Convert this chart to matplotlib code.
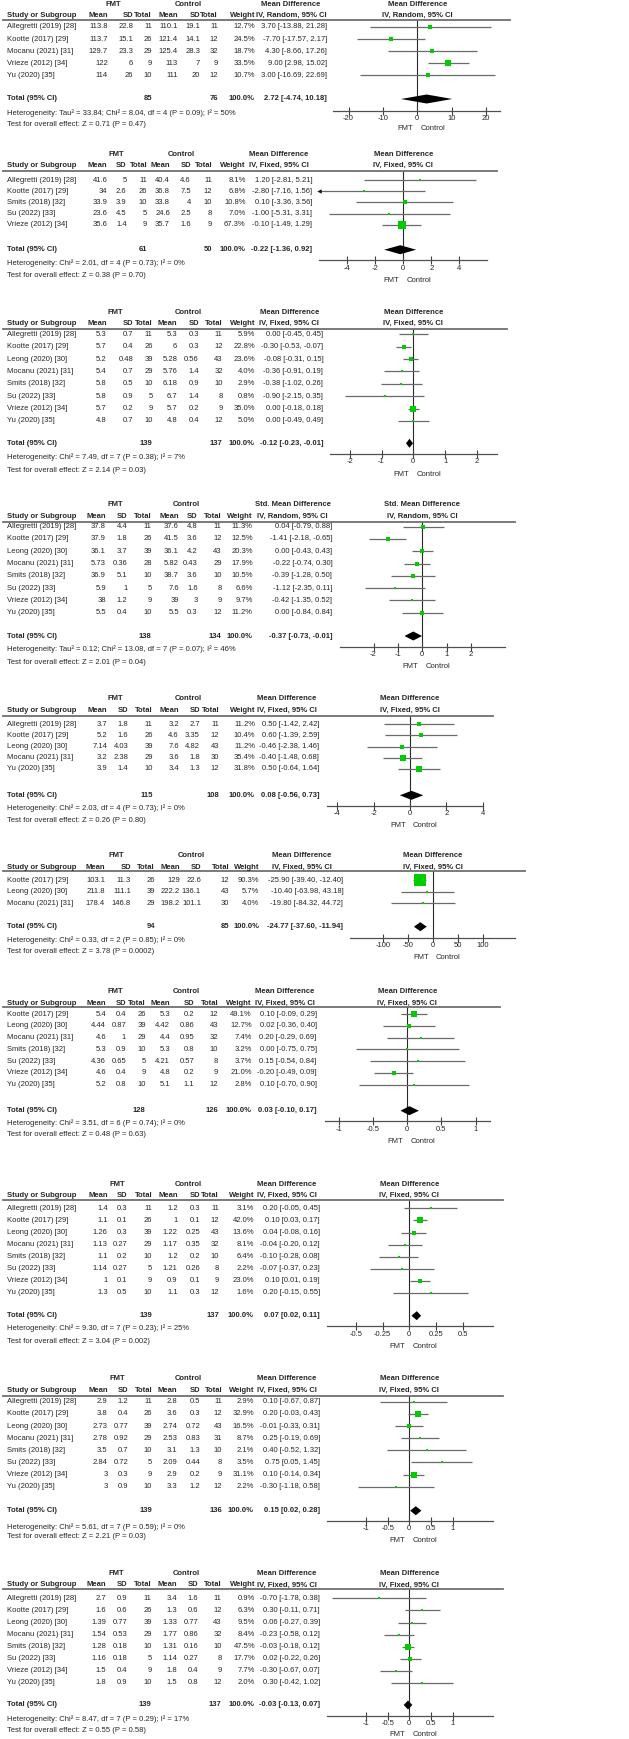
import matplotlib
matplotlib.use('Agg')
import matplotlib.pyplot as plt
from matplotlib import font_manager
from matplotlib.lines import Line2D
from matplotlib.ticker import FuncFormatter

W, H = 629, 1739
_names = {f.name for f in font_manager.fontManager.ttflist}
if 'Liberation Sans Narrow' in _names:
    FONT, FS = 'Liberation Sans Narrow', 6.5
else:
    FONT, FS = 'Liberation Sans', 5.5
plt.rcParams['font.family'] = [FONT, 'DejaVu Sans']
plt.rcParams['axes.unicode_minus'] = False

TXT = '#262626'
GREEN = '#00cc00'
CI_COL = '#6a6a6a'
LINE_COL = '#707070'

# ---------------- DATA ----------------
ALL8 = ['Allegretti (2019) [28]', 'Kootte (2017) [29]', 'Leong (2020) [30]', 'Mocanu (2021) [31]',
        'Smits (2018) [32]', 'Su (2022) [33]', 'Vrieze (2012) [34]', 'Yu (2020) [35]']

p1_study = ['Allegretti (2019) [28]', 'Kootte (2017) [29]', 'Mocanu (2021) [31]', 'Vrieze (2012) [34]', 'Yu (2020) [35]']
p1_fmt_mean = [113.8, 113.7, 129.7, 122, 114]
p1_fmt_sd = [22.8, 15.1, 23.3, 6, 26]
p1_fmt_n = [11, 26, 29, 9, 10]
p1_ctl_mean = [110.1, 121.4, 125.4, 113, 111]
p1_ctl_sd = [19.1, 14.1, 28.3, 7, 20]
p1_ctl_n = [11, 12, 32, 9, 12]
p1_weight = [12.7, 24.5, 18.7, 33.5, 10.7]
p1_md = [3.70, -7.70, 4.30, 9.00, 3.00]
p1_lo = [-13.88, -17.57, -8.66, 2.98, -16.69]
p1_hi = [21.28, 2.17, 17.26, 15.02, 22.69]
p1_total = [85, 76, 2.72, -4.74, 10.18]
p1_ticks = [-20, -10, 0, 10, 20]

p2_study = ['Allegretti (2019) [28]', 'Kootte (2017) [29]', 'Smits (2018) [32]', 'Su (2022) [33]', 'Vrieze (2012) [34]']
p2_fmt_mean = [41.6, 34, 33.9, 23.6, 35.6]
p2_fmt_sd = [5, 2.6, 3.9, 4.5, 1.4]
p2_fmt_n = [11, 26, 10, 5, 9]
p2_ctl_mean = [40.4, 36.8, 33.8, 24.6, 35.7]
p2_ctl_sd = [4.6, 7.5, 4, 2.5, 1.6]
p2_ctl_n = [11, 12, 10, 8, 9]
p2_weight = [8.1, 6.8, 10.8, 7.0, 67.3]
p2_md = [1.20, -2.80, 0.10, -1.00, -0.10]
p2_lo = [-2.81, -7.16, -3.36, -5.31, -1.49]
p2_hi = [5.21, 1.56, 3.56, 3.31, 1.29]
p2_total = [61, 50, -0.22, -1.36, 0.92]
p2_ticks = [-4, -2, 0, 2, 4]

p3_study = ALL8
p3_fmt_mean = [5.3, 5.7, 5.2, 5.4, 5.8, 5.8, 5.7, 4.8]
p3_fmt_sd = [0.7, 0.4, 0.48, 0.7, 0.5, 0.9, 0.2, 0.7]
p3_fmt_n = [11, 26, 39, 29, 10, 5, 9, 10]
p3_ctl_mean = [5.3, 6, 5.28, 5.76, 6.18, 6.7, 5.7, 4.8]
p3_ctl_sd = [0.3, 0.3, 0.56, 1.4, 0.9, 1.4, 0.2, 0.4]
p3_ctl_n = [11, 12, 43, 32, 10, 8, 9, 12]
p3_weight = [5.9, 22.8, 23.6, 4.0, 2.9, 0.8, 35.0, 5.0]
p3_md = [0.00, -0.30, -0.08, -0.36, -0.38, -0.90, 0.00, 0.00]
p3_lo = [-0.45, -0.53, -0.31, -0.91, -1.02, -2.15, -0.18, -0.49]
p3_hi = [0.45, -0.07, 0.15, 0.19, 0.26, 0.35, 0.18, 0.49]
p3_total = [139, 137, -0.12, -0.23, -0.01]
p3_ticks = [-2, -1, 0, 1, 2]

p4_study = ALL8
p4_fmt_mean = [37.8, 37.9, 36.1, 5.73, 36.9, 5.9, 38, 5.5]
p4_fmt_sd = [4.4, 1.8, 3.7, 0.36, 5.1, 1, 1.2, 0.4]
p4_fmt_n = [11, 26, 39, 28, 10, 5, 9, 10]
p4_ctl_mean = [37.6, 41.5, 36.1, 5.82, 38.7, 7.6, 39, 5.5]
p4_ctl_sd = [4.8, 3.6, 4.2, 0.43, 3.6, 1.6, 3, 0.3]
p4_ctl_n = [11, 12, 43, 29, 10, 8, 9, 12]
p4_weight = [11.3, 12.5, 20.3, 17.9, 10.5, 6.6, 9.7, 11.2]
p4_md = [0.04, -1.41, 0.00, -0.22, -0.39, -1.12, -0.42, 0.00]
p4_lo = [-0.79, -2.18, -0.43, -0.74, -1.28, -2.35, -1.35, -0.84]
p4_hi = [0.88, -0.65, 0.43, 0.30, 0.50, 0.11, 0.52, 0.84]
p4_total = [138, 134, -0.37, -0.73, -0.01]
p4_ticks = [-2, -1, 0, 1, 2]

p5_study = ['Allegretti (2019) [28]', 'Kootte (2017) [29]', 'Leong (2020) [30]', 'Mocanu (2021) [31]', 'Yu (2020) [35]']
p5_fmt_mean = [3.7, 5.2, 7.14, 3.2, 3.9]
p5_fmt_sd = [1.8, 1.6, 4.03, 2.38, 1.4]
p5_fmt_n = [11, 26, 39, 29, 10]
p5_ctl_mean = [3.2, 4.6, 7.6, 3.6, 3.4]
p5_ctl_sd = [2.7, 3.35, 4.82, 1.8, 1.3]
p5_ctl_n = [11, 12, 43, 30, 12]
p5_weight = [11.2, 10.4, 11.2, 35.4, 31.8]
p5_md = [0.50, 0.60, -0.46, -0.40, 0.50]
p5_lo = [-1.42, -1.39, -2.38, -1.48, -0.64]
p5_hi = [2.42, 2.59, 1.46, 0.68, 1.64]
p5_total = [115, 108, 0.08, -0.56, 0.73]
p5_ticks = [-4, -2, 0, 2, 4]

p6_study = ['Kootte (2017) [29]', 'Leong (2020) [30]', 'Mocanu (2021) [31]']
p6_fmt_mean = [103.1, 211.8, 178.4]
p6_fmt_sd = [11.3, 111.1, 146.8]
p6_fmt_n = [26, 39, 29]
p6_ctl_mean = [129, 222.2, 198.2]
p6_ctl_sd = [22.6, 136.1, 101.1]
p6_ctl_n = [12, 43, 30]
p6_weight = [90.3, 5.7, 4.0]
p6_md = [-25.90, -10.40, -19.80]
p6_lo = [-39.40, -63.98, -84.32]
p6_hi = [-12.40, 43.18, 44.72]
p6_total = [94, 85, -24.77, -37.60, -11.94]
p6_ticks = [-100, -50, 0, 50, 100]

p7_study = ['Kootte (2017) [29]', 'Leong (2020) [30]', 'Mocanu (2021) [31]', 'Smits (2018) [32]',
            'Su (2022) [33]', 'Vrieze (2012) [34]', 'Yu (2020) [35]']
p7_fmt_mean = [5.4, 4.44, 4.6, 5.3, 4.36, 4.6, 5.2]
p7_fmt_sd = [0.4, 0.87, 1, 0.9, 0.65, 0.4, 0.8]
p7_fmt_n = [26, 39, 29, 10, 5, 9, 10]
p7_ctl_mean = [5.3, 4.42, 4.4, 5.3, 4.21, 4.8, 5.1]
p7_ctl_sd = [0.2, 0.86, 0.95, 0.8, 0.57, 0.2, 1.1]
p7_ctl_n = [12, 43, 32, 10, 8, 9, 12]
p7_weight = [49.1, 12.7, 7.4, 3.2, 3.7, 21.0, 2.8]
p7_md = [0.10, 0.02, 0.20, 0.00, 0.15, -0.20, 0.10]
p7_lo = [-0.09, -0.36, -0.29, -0.75, -0.54, -0.49, -0.70]
p7_hi = [0.29, 0.40, 0.69, 0.75, 0.84, 0.09, 0.90]
p7_total = [128, 126, 0.03, -0.10, 0.17]
p7_ticks = [-1, -0.5, 0, 0.5, 1]

p8_study = ALL8
p8_fmt_mean = [1.4, 1.1, 1.26, 1.13, 1.1, 1.14, 1, 1.3]
p8_fmt_sd = [0.3, 0.1, 0.3, 0.27, 0.2, 0.27, 0.1, 0.5]
p8_fmt_n = [11, 26, 39, 29, 10, 5, 9, 10]
p8_ctl_mean = [1.2, 1, 1.22, 1.17, 1.2, 1.21, 0.9, 1.1]
p8_ctl_sd = [0.3, 0.1, 0.25, 0.35, 0.2, 0.26, 0.1, 0.3]
p8_ctl_n = [11, 12, 43, 32, 10, 8, 9, 12]
p8_weight = [3.1, 42.0, 13.6, 8.1, 6.4, 2.2, 23.0, 1.6]
p8_md = [0.20, 0.10, 0.04, -0.04, -0.10, -0.07, 0.10, 0.20]
p8_lo = [-0.05, 0.03, -0.08, -0.20, -0.28, -0.37, 0.01, -0.15]
p8_hi = [0.45, 0.17, 0.16, 0.12, 0.08, 0.23, 0.19, 0.55]
p8_total = [139, 137, 0.07, 0.02, 0.11]
p8_ticks = [-0.5, -0.25, 0, 0.25, 0.5]

p9_study = ALL8
p9_fmt_mean = [2.9, 3.8, 2.73, 2.78, 3.5, 2.84, 3, 3]
p9_fmt_sd = [1.2, 0.4, 0.77, 0.92, 0.7, 0.72, 0.3, 0.9]
p9_fmt_n = [11, 26, 39, 29, 10, 5, 9, 10]
p9_ctl_mean = [2.8, 3.6, 2.74, 2.53, 3.1, 2.09, 2.9, 3.3]
p9_ctl_sd = [0.5, 0.3, 0.72, 0.83, 1.3, 0.44, 0.2, 1.2]
p9_ctl_n = [11, 12, 43, 31, 10, 8, 9, 12]
p9_weight = [2.9, 32.9, 16.5, 8.7, 2.1, 3.5, 31.1, 2.2]
p9_md = [0.10, 0.20, -0.01, 0.25, 0.40, 0.75, 0.10, -0.30]
p9_lo = [-0.67, -0.03, -0.33, -0.19, -0.52, 0.05, -0.14, -1.18]
p9_hi = [0.87, 0.43, 0.31, 0.69, 1.32, 1.45, 0.34, 0.58]
p9_total = [139, 136, 0.15, 0.02, 0.28]
p9_ticks = [-1, -0.5, 0, 0.5, 1]

p10_study = ALL8
p10_fmt_mean = [2.7, 1.6, 1.39, 1.54, 1.28, 1.16, 1.5, 1.8]
p10_fmt_sd = [0.9, 0.6, 0.77, 0.53, 0.18, 0.18, 0.4, 0.9]
p10_fmt_n = [11, 26, 39, 29, 10, 5, 9, 10]
p10_ctl_mean = [3.4, 1.3, 1.33, 1.77, 1.31, 1.14, 1.8, 1.5]
p10_ctl_sd = [1.6, 0.6, 0.77, 0.86, 0.16, 0.27, 0.4, 0.8]
p10_ctl_n = [11, 12, 43, 32, 10, 8, 9, 12]
p10_weight = [0.9, 6.3, 9.5, 8.4, 47.5, 17.7, 7.7, 2.0]
p10_md = [-0.70, 0.30, 0.06, -0.23, -0.03, 0.02, -0.30, 0.30]
p10_lo = [-1.78, -0.11, -0.27, -0.58, -0.18, -0.22, -0.67, -0.42]
p10_hi = [0.38, 0.71, 0.39, 0.12, 0.12, 0.26, 0.07, 1.02]
p10_total = [139, 137, -0.03, -0.13, 0.07]
p10_ticks = [-1, -0.5, 0, 0.5, 1]

measures = ['Mean Difference', 'Mean Difference', 'Mean Difference', 'Std. Mean Difference', 'Mean Difference',
            'Mean Difference', 'Mean Difference', 'Mean Difference', 'Mean Difference', 'Mean Difference']
methods = ['IV, Random, 95% CI', 'IV, Fixed, 95% CI', 'IV, Fixed, 95% CI', 'IV, Random, 95% CI', 'IV, Fixed, 95% CI',
           'IV, Fixed, 95% CI', 'IV, Fixed, 95% CI', 'IV, Fixed, 95% CI', 'IV, Fixed, 95% CI', 'IV, Fixed, 95% CI']
heterogeneity = [
    'Heterogeneity: Tau² = 33.84; Chi² = 8.04, df = 4 (P = 0.09); I² = 50%',
    'Heterogeneity: Chi² = 2.01, df = 4 (P = 0.73); I² = 0%',
    'Heterogeneity: Chi² = 7.49, df = 7 (P = 0.38); I² = 7%',
    'Heterogeneity: Tau² = 0.12; Chi² = 13.08, df = 7 (P = 0.07); I² = 46%',
    'Heterogeneity: Chi² = 2.03, df = 4 (P = 0.73); I² = 0%',
    'Heterogeneity: Chi² = 0.33, df = 2 (P = 0.85); I² = 0%',
    'Heterogeneity: Chi² = 3.51, df = 6 (P = 0.74); I² = 0%',
    'Heterogeneity: Chi² = 9.30, df = 7 (P = 0.23); I² = 25%',
    'Heterogeneity: Chi² = 5.61, df = 7 (P = 0.59); I² = 0%',
    'Heterogeneity: Chi² = 8.47, df = 7 (P = 0.29); I² = 17%',
]
overall = [
    'Test for overall effect: Z = 0.71 (P = 0.47)',
    'Test for overall effect: Z = 0.38 (P = 0.70)',
    'Test for overall effect: Z = 2.14 (P = 0.03)',
    'Test for overall effect: Z = 2.01 (P = 0.04)',
    'Test for overall effect: Z = 0.26 (P = 0.80)',
    'Test for overall effect: Z = 3.78 (P = 0.0002)',
    'Test for overall effect: Z = 0.48 (P = 0.63)',
    'Test for overall effect: Z = 3.04 (P = 0.002)',
    'Test for overall effect: Z = 2.21 (P = 0.03)',
    'Test for overall effect: Z = 0.55 (P = 0.58)',
]

g = globals()
PANELS = []
for k in range(1, 11):
    PANELS.append(dict(
        study=g[f'p{k}_study'], fm=g[f'p{k}_fmt_mean'], fs=g[f'p{k}_fmt_sd'], fn=g[f'p{k}_fmt_n'],
        cm=g[f'p{k}_ctl_mean'], cs=g[f'p{k}_ctl_sd'], cn=g[f'p{k}_ctl_n'], w=g[f'p{k}_weight'],
        md=g[f'p{k}_md'], lo=g[f'p{k}_lo'], hi=g[f'p{k}_hi'], total=g[f'p{k}_total'],
        ticks=g[f'p{k}_ticks'], measure=measures[k - 1], method=methods[k - 1],
        het=heterogeneity[k - 1], test=overall[k - 1]))

# ---------------- LAYOUT (pixels) ----------------
LAYOUT = [
    dict(y_grp=4, y_sub=15.3, y_line=20, y0=27, dy=12.1, y_tot=99, y_het=113, y_test=125, y_axis=111, y_fc=129,
         cols=[7, 108, 133, 152, 178, 200, 218, 255, 327], grp=[113, 188, 291], x0=417.3, ppu=3.44, ax_l=333, ax_r=500),
    dict(y_grp=154, y_sub=165.7, y_line=170.7, y0=180, dy=11.2, y_tot=249.7, y_het=263.3, y_test=275.3, y_axis=260.3, y_fc=280,
         cols=[7, 107.3, 126.7, 147.3, 170, 191, 212.3, 245.7, 312.3], grp=[116, 181.7, 279], x0=403.3, ppu=14, ax_l=319.3, ax_r=486.7),
    dict(y_grp=312, y_sub=323.7, y_line=328.7, y0=334.3, dy=12.38, y_tot=443.3, y_het=457.3, y_test=470, y_axis=454, y_fc=474.3,
         cols=[7, 106.7, 133.3, 152.7, 177.3, 199, 222.7, 255, 323.3], grp=[115, 188.3, 289.3], x0=413.3, ppu=31.8, ax_l=330, ax_r=496.7),
    dict(y_grp=504, y_sub=516.7, y_line=522, y0=526.7, dy=12.29, y_tot=636, y_het=649.3, y_test=662, y_axis=647, y_fc=667,
         cols=[6.7, 106, 127.3, 151.7, 179, 197.7, 221.7, 252.7, 332.3], grp=[115, 186.7, 292.7], x0=422.3, ppu=24.4, ax_l=340, ax_r=505),
    dict(y_grp=698.7, y_sub=710.3, y_line=716, y0=724.3, dy=11.1, y_tot=795.3, y_het=808.3, y_test=820.3, y_axis=806, y_fc=825.3,
         cols=[7, 107.3, 128.3, 152.7, 179, 200, 219.3, 255, 319.3], grp=[115, 188.3, 286.7], x0=410, ppu=18.2, ax_l=326.7, ax_r=483.3),
    dict(y_grp=856, y_sub=867.3, y_line=871, y0=880, dy=11.7, y_tot=926.7, y_het=940, y_test=951.3, y_axis=937.7, y_fc=957.7,
         cols=[7, 105, 131, 155, 180, 201, 229.3, 259.3, 343.3], grp=[116.7, 191.7, 301.7], x0=432.7, ppu=0.5, ax_l=350, ax_r=515),
    dict(y_grp=991.3, y_sub=1003, y_line=1007.3, y0=1014, dy=11.8, y_tot=1110.7, y_het=1123, y_test=1134.7, y_axis=1121.3, y_fc=1141.3,
         cols=[7, 106, 126, 145.7, 170, 194, 218.3, 251.7, 316.7], grp=[115, 186, 285], x0=407.3, ppu=68.3, ax_l=325, ax_r=490),
    dict(y_grp=1184, y_sub=1195.7, y_line=1200.3, y0=1208.3, dy=12.1, y_tot=1315.7, y_het=1328.3, y_test=1341.7, y_axis=1326.3, y_fc=1346,
         cols=[7, 107.7, 127.7, 152.3, 177.7, 200, 219, 254, 320], grp=[117.3, 188.3, 286.7], x0=409.3, ppu=106.7, ax_l=326.7, ax_r=492.7),
    dict(y_grp=1379, y_sub=1390.7, y_line=1395.7, y0=1401.7, dy=12.15, y_tot=1510.7, y_het=1526.7, y_test=1536, y_axis=1521, y_fc=1541,
         cols=[7, 107.7, 128.3, 152.3, 177.3, 200, 222.3, 254, 320], grp=[117.3, 188.3, 286.7], x0=409.3, ppu=43.2, ax_l=326.7, ax_r=493.3),
    dict(y_grp=1573.3, y_sub=1585, y_line=1589.3, y0=1598.3, dy=12.1, y_tot=1705, y_het=1719.3, y_test=1730.7, y_axis=1716, y_fc=1735,
         cols=[6.7, 106, 127.7, 151.7, 177.3, 198.3, 221.7, 255, 320], grp=[116.7, 186.7, 286.7], x0=409.3, ppu=43.2, ax_l=326.7, ax_r=492.7),
]

fig = plt.figure(figsize=(W / 100, H / 100), dpi=100)
fig.patch.set_facecolor('white')


def fx(x):
    return x / W


def fy(y):
    return 1 - y / H


def T(x, y, s, ha='right', bold=False):
    fig.text(fx(x), fy(y), s, ha=ha, va='center', fontsize=FS,
             fontweight='bold' if bold else 'normal', color=TXT)


def fmtv(v):
    return f'{v:g}'


def draw(d, L):
    c = L['cols']
    T(L['grp'][0], L['y_grp'], 'FMT', 'center', True)
    T(L['grp'][1], L['y_grp'], 'Control', 'center', True)
    T(L['grp'][2], L['y_grp'], d['measure'], 'center', True)
    T(c[0], L['y_sub'], 'Study or Subgroup', 'left', True)
    for x, s in zip(c[1:8], ['Mean', 'SD', 'Total', 'Mean', 'SD', 'Total', 'Weight']):
        T(x, L['y_sub'], s, 'right', True)
    T(L['grp'][2], L['y_sub'], d['method'], 'center', True)
    T(L['x0'], L['y_grp'], d['measure'], 'center', True)
    T(L['x0'], L['y_sub'], d['method'], 'center', True)
    fig.add_artist(Line2D([fx(3), fx(L['ax_r'] + 10)], [fy(L['y_line'])] * 2,
                          color=LINE_COL, lw=1.3, transform=fig.transFigure))

    n = len(d['study'])
    for i in range(n):
        y = L['y0'] + i * L['dy']
        T(c[0], y, d['study'][i], 'left')
        vals = [fmtv(d['fm'][i]), fmtv(d['fs'][i]), str(d['fn'][i]), fmtv(d['cm'][i]),
                fmtv(d['cs'][i]), str(d['cn'][i]), f"{d['w'][i]:.1f}%",
                f"{d['md'][i]:.2f} [{d['lo'][i]:.2f}, {d['hi'][i]:.2f}]"]
        for x, s in zip(c[1:], vals):
            T(x, y, s, 'right')

    tot = d['total']
    yt = L['y_tot']
    T(c[0], yt, 'Total (95% CI)', 'left', True)
    T(c[3], yt, str(tot[0]), 'right', True)
    T(c[6], yt, str(tot[1]), 'right', True)
    T(c[7], yt, '100.0%', 'right', True)
    T(c[8], yt, f'{tot[2]:.2f} [{tot[3]:.2f}, {tot[4]:.2f}]', 'right', True)
    T(c[0], L['y_het'], d['het'], 'left')
    T(c[0], L['y_test'], d['test'], 'left')

    ax = fig.add_axes([fx(L['ax_l']), fy(L['y_axis']), (L['ax_r'] - L['ax_l']) / W,
                       (L['y_axis'] - L['y_line']) / H])
    ax.patch.set_visible(False)
    xmin = (L['ax_l'] - L['x0']) / L['ppu']
    xmax = (L['ax_r'] - L['x0']) / L['ppu']
    ax.set_xlim(xmin, xmax)
    ax.set_ylim((L['y_axis'] - L['y0']) / L['dy'], (L['y_line'] - L['y0']) / L['dy'])
    for s in ['top', 'left', 'right']:
        ax.spines[s].set_visible(False)
    ax.spines['bottom'].set_color('#505050')
    ax.spines['bottom'].set_linewidth(0.9)
    ax.set_yticks([])
    ax.set_xticks(d['ticks'])
    ax.xaxis.set_major_formatter(FuncFormatter(lambda v, p: f'{v:g}'))
    ax.tick_params(axis='x', direction='inout', length=5.5, width=0.8, color='#404040',
                   labelsize=FS, pad=0.3, labelcolor=TXT)
    ax.axvline(0, color='#2a2a2a', lw=0.8, zorder=1)

    for i in range(n):
        lo, hi, md = d['lo'][i], d['hi'][i], d['md'][i]
        ax.plot([max(lo, xmin), min(hi, xmax)], [i, i], color=CI_COL, lw=0.9, zorder=2,
                solid_capstyle='butt')
        if lo < xmin:
            ax.plot(xmin, i, marker='<', ms=3.2, color='#111111', mew=0, clip_on=False, zorder=3)
        if hi > xmax:
            ax.plot(xmax, i, marker='>', ms=3.2, color='#111111', mew=0, clip_on=False, zorder=3)
        side_px = 2.0 + 0.1 * d['w'][i]
        ax.plot(md, i, marker='s', ms=side_px * 0.72, color=GREEN, mew=0, zorder=4)

    t = (yt - L['y0']) / L['dy']
    h = 4.5 / L['dy']
    ax.fill([tot[3], tot[2], tot[4], tot[2]], [t, t - h, t, t + h], color='black', lw=0, zorder=5)

    T(L['x0'] - 4, L['y_fc'], 'FMT', 'right')
    T(L['x0'] + 3, L['y_fc'], 'Control', 'left')


for d, L in zip(PANELS, LAYOUT):
    draw(d, L)

fig.savefig('out.png', dpi=100, facecolor='white')
